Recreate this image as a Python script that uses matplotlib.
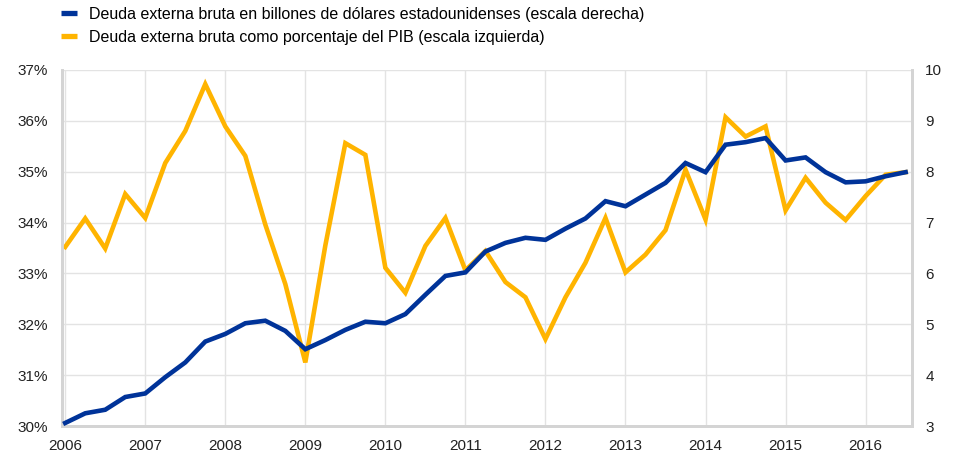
import numpy as np
import matplotlib.pyplot as plt
from matplotlib.lines import Line2D

plt.rcParams['font.family'] = ['Liberation Sans', 'DejaVu Sans']

# quarterly data 2006Q1 - 2016Q3
start_year = 2006
pct_gdp = [33.52, 34.08, 33.49, 34.56, 34.09, 35.17, 35.80, 36.72,
           35.89, 35.31, 33.96, 32.79, 31.25, 33.55, 35.56, 35.33,
           33.11, 32.62, 33.54, 34.09, 33.06, 33.44, 32.83, 32.53,
           31.71, 32.53, 33.21, 34.09, 33.02, 33.37, 33.85, 35.04,
           34.06, 36.07, 35.69, 35.89, 34.24, 34.88, 34.39, 34.05,
           34.52, 34.94, 34.99]
usd_bn = [3.06, 3.25, 3.32, 3.57, 3.64, 3.96, 4.25, 4.66,
          4.81, 5.02, 5.07, 4.87, 4.51, 4.69, 4.89, 5.05,
          5.02, 5.20, 5.58, 5.95, 6.02, 6.43, 6.60, 6.70,
          6.66, 6.88, 7.08, 7.42, 7.32, 7.55, 7.78, 8.17,
          7.99, 8.53, 8.58, 8.66, 8.22, 8.28, 7.99, 7.79,
          7.81, 7.91, 7.99]
year_ticks = list(range(2006, 2017))
left_ticks = [30, 31, 32, 33, 34, 35, 36, 37]
right_ticks = [3, 4, 5, 6, 7, 8, 9, 10]

label_blue = 'Deuda externa bruta en billones de dólares estadounidenses (escala derecha)'
label_yellow = 'Deuda externa bruta como porcentaje del PIB (escala izquierda)'

blue = '#003399'
yellow = '#FFB400'
grid_c = '#e3e3e3'
spine_c = '#d4d4d4'

x = start_year + np.arange(len(pct_gdp)) / 4.0

fig = plt.figure(figsize=(9.54, 4.57), dpi=100)
ax = fig.add_axes([0.065, 0.0678, 0.891, 0.7792])
ax2 = ax.twinx()

ax.plot(x, pct_gdp, color=yellow, lw=3.3, solid_joinstyle='miter', zorder=3)
ax2.plot(x, usd_bn, color=blue, lw=3.3, solid_joinstyle='miter', zorder=4)

ax.set_xlim(2006 - 0.04, 2016.58)
ax.set_ylim(30, 37)
ax2.set_ylim(3, 10)
ax.set_xticks(year_ticks)
ax.set_yticks(left_ticks)
ax.set_yticklabels([f'{t}%' for t in left_ticks])
ax2.set_yticks(right_ticks)

ax.grid(True, color=grid_c, lw=1)
ax.set_axisbelow(True)
for a in (ax, ax2):
    a.tick_params(length=0, labelsize=11, colors='#222222')
    a.spines['top'].set_visible(False)
    for s in ('left', 'right', 'bottom'):
        a.spines[s].set_color(spine_c)
        a.spines[s].set_linewidth(2)
ax.tick_params(axis='y', pad=10)
ax2.tick_params(axis='y', pad=9.5)
ax.tick_params(axis='x', pad=9.5)

# blue line drawn on top
ax2.set_zorder(ax.get_zorder() + 1)
ax2.patch.set_visible(False)

handles = [Line2D([], [], color=blue, lw=3.8, solid_capstyle='butt'),
           Line2D([], [], color=yellow, lw=3.8, solid_capstyle='butt')]
fig.legend(handles, [label_blue, label_yellow], loc='upper left',
           bbox_to_anchor=(0.064, 0.985), frameon=False, fontsize=11.5,
           handlelength=1.0, handletextpad=0.75, labelspacing=0.5,
           borderaxespad=0, borderpad=0)

fig.savefig('out.png', dpi=100)
